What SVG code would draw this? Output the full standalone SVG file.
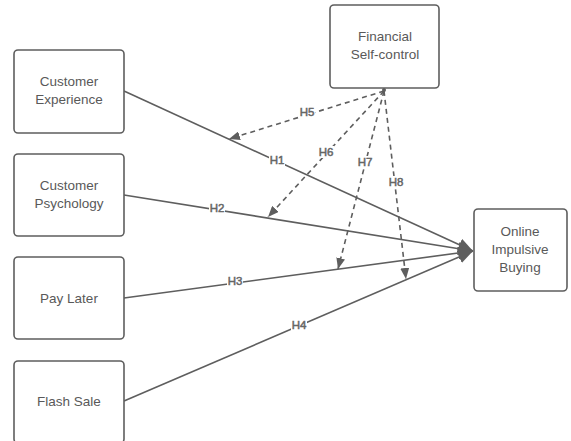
<svg xmlns="http://www.w3.org/2000/svg" width="571" height="441" viewBox="0 0 571 441">
<style>
.node rect{fill:#fff;stroke:#5e5e5e;stroke-width:1.6}
.node text{font-family:"Liberation Sans",Arial,sans-serif;font-size:13.5px;fill:#595959;text-anchor:middle}
.solid{stroke:#5e5e5e;stroke-width:1.6;fill:none}
.dash{stroke:#5e5e5e;stroke-width:1.6;fill:none;stroke-dasharray:5,4}
.lbl rect{fill:#fff}
.lbl text{font-family:"Liberation Sans",Arial,sans-serif;font-size:11.5px;fill:#666;text-anchor:middle;stroke:#666;stroke-width:0.5}
</style>
<defs>
<marker id="big" viewBox="0 0 15 13" refX="15" refY="6.5" markerWidth="15" markerHeight="13" markerUnits="userSpaceOnUse" orient="auto"><path d="M0,0 L15,6.5 L0,13 Z" fill="#5e5e5e"/></marker>
<marker id="sm" viewBox="0 0 11 9" refX="11" refY="4.5" markerWidth="11" markerHeight="9" markerUnits="userSpaceOnUse" orient="auto"><path d="M0,0 L11,4.5 L0,9 Z" fill="#5e5e5e"/></marker>
</defs>
<g id="connectors">
<line class="solid" x1="124" y1="91" x2="473" y2="251" marker-end="url(#big)"/>
<line class="solid" x1="124" y1="195" x2="473" y2="251" marker-end="url(#big)"/>
<line class="solid" x1="124" y1="298" x2="473" y2="251" marker-end="url(#big)"/>
<line class="solid" x1="124" y1="401" x2="473" y2="251" marker-end="url(#big)"/>
<line class="dash" x1="384" y1="91" x2="229" y2="139" marker-end="url(#sm)"/>
<line class="dash" x1="384" y1="91" x2="268" y2="217" marker-end="url(#sm)"/>
<line class="dash" x1="384" y1="91" x2="338" y2="269" marker-end="url(#sm)"/>
<line class="dash" x1="384" y1="91" x2="406" y2="279" marker-end="url(#sm)"/>
<circle cx="384" cy="90" r="2" fill="#5e5e5e"/>
<g class="lbl">
<rect x="269" y="154" width="16" height="12"/><text x="277" y="164">H1</text>
<rect x="209" y="202" width="16" height="12"/><text x="217" y="212">H2</text>
<rect x="227" y="275" width="16" height="12"/><text x="235" y="285">H3</text>
<rect x="291" y="319" width="16" height="12"/><text x="299" y="329">H4</text>
<rect x="299" y="106" width="16" height="12"/><text x="307" y="116">H5</text>
<rect x="318" y="146" width="16" height="12"/><text x="326" y="156">H6</text>
<rect x="357" y="156" width="16" height="12"/><text x="365" y="166">H7</text>
<rect x="388" y="176" width="16" height="12"/><text x="396" y="186">H8</text>
</g>
</g>
<g id="customer-experience" class="node"><rect x="14" y="50" width="110" height="83" rx="4"/><text x="69" y="86">Customer</text><text x="69" y="104">Experience</text></g>
<g id="customer-psychology" class="node"><rect x="14" y="154" width="110" height="82" rx="4"/><text x="69" y="190">Customer</text><text x="69" y="208">Psychology</text></g>
<g id="pay-later" class="node"><rect x="14" y="257" width="110" height="82" rx="4"/><text x="69" y="303">Pay Later</text></g>
<g id="flash-sale" class="node"><rect x="14" y="361" width="110" height="82" rx="4"/><text x="69" y="406">Flash Sale</text></g>
<g id="financial-self-control" class="node"><rect x="330" y="5" width="109" height="83" rx="4"/><text x="385" y="41">Financial</text><text x="385" y="59">Self-control</text></g>
<g id="online-impulsive-buying" class="node"><rect x="474" y="209" width="93" height="82" rx="4"/><text x="520" y="236">Online</text><text x="520" y="254">Impulsive</text><text x="520" y="272">Buying</text></g>
</svg>
